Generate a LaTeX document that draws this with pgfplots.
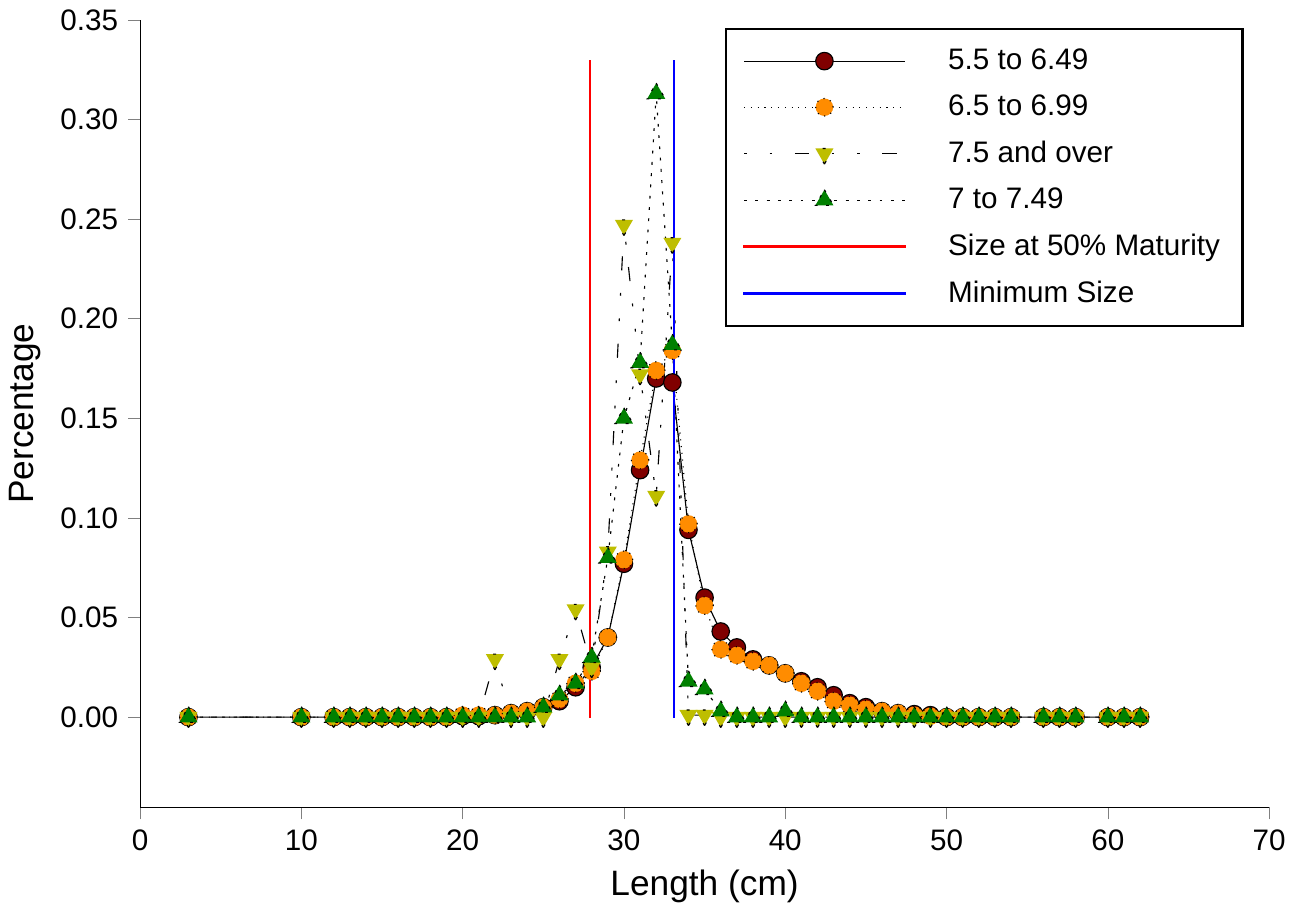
\documentclass[border=0pt]{standalone}
\usepackage{pgfplots}
\pgfplotsset{compat=1.18}
\usepackage{fontspec}
\setmainfont{Liberation Sans}
\definecolor{dred}{RGB}{128,0,0}
\definecolor{orng}{RGB}{255,140,0}
\definecolor{yel}{RGB}{190,190,0}
\definecolor{grn}{RGB}{0,128,0}
\definecolor{myblue}{RGB}{0,0,255}
\newcommand{\g}{\hspace*{13pt}}
\begin{document}
\begin{tikzpicture}
\begin{axis}[scale only axis, width=400pt, height=279pt,
 xmin=0, xmax=70, ymin=-0.0453, ymax=0.35,
 xtick={0,10,...,70}, ytick={0,0.05,...,0.35},
 yticklabel style={/pgf/number format/.cd,fixed,fixed zerofill,precision=2},
 /pgf/number format/assume math mode=true,
 tick align=outside, axis x line*=bottom, axis y line*=left,
 ticklabel style={font=\fontsize{10.5}{12}\selectfont},
 xlabel={Length (cm)}, ylabel={Percentage},
 label style={font=\fontsize{12.5}{14}\selectfont},
 legend style={at={(0.518,0.99)},anchor=north west, font=\fontsize{10.5}{12}\selectfont, draw=black, thick, row sep=3.5pt, inner xsep=6pt, inner ysep=5pt},
 legend cell align=left,
 legend image code/.code={\draw[mark repeat=2,mark phase=2,#1] plot coordinates {(0cm,0cm) (1.0cm,0cm) (2.0cm,0cm)};},
 every axis plot/.append style={mark size=3.1pt, mark options={solid,draw=black,thin}},
 clip=false]
\addplot[black, thin, mark=*, mark options={fill=dred}] coordinates {
(3,0)(10,0)(12,0)(13,0)(14,0)(15,0)(16,0)(17,0)(18,0)(19,0)(20,0.0005)(21,0.0005)(22,0.001)(23,0.002)(24,0.003)(25,0.005)(26,0.008)(27,0.015)(28,0.025)(29,0.040)(30,0.077)(31,0.124)(32,0.170)(33,0.168)(34,0.094)(35,0.060)(36,0.043)(37,0.035)(38,0.029)(39,0.026)(40,0.022)(41,0.018)(42,0.015)(43,0.011)(44,0.007)(45,0.005)(46,0.003)(47,0.002)(48,0.0015)(49,0.001)(50,0)(51,0)(52,0)(53,0)(54,0)(56,0)(57,0)(58,0)(60,0)(61,0)(62,0)};
\addlegendentry{\g 5.5 to 6.49}
\addplot[black, thin, dotted, mark=*, mark options={fill=orng}] coordinates {
(3,0)(10,0)(12,0)(13,0)(14,0)(15,0)(16,0)(17,0)(18,0)(19,0)(20,0.001)(21,0.001)(22,0.001)(23,0.002)(24,0.003)(25,0.005)(26,0.009)(27,0.017)(28,0.023)(29,0.040)(30,0.079)(31,0.129)(32,0.174)(33,0.184)(34,0.097)(35,0.056)(36,0.034)(37,0.031)(38,0.028)(39,0.026)(40,0.022)(41,0.017)(42,0.013)(43,0.008)(44,0.006)(45,0.004)(46,0.003)(47,0.002)(48,0.001)(49,0.0005)(50,0)(51,0)(52,0)(53,0)(54,0)(56,0)(57,0)(58,0)(60,0)(61,0)(62,0)};
\addlegendentry{\g 6.5 to 6.99}
\addplot[black, thin, dash pattern=on 1pt off 8pt on 1pt off 8pt on 5pt off 8pt, mark=triangle*, mark size=3.7pt, mark options={fill=yel, rotate=180}] coordinates {
(3,0)(10,0)(12,0)(13,0)(14,0)(15,0)(16,0)(17,0)(18,0)(19,0)(20,0)(21,0)(22,0.029)(23,0)(24,0)(25,0)(26,0.029)(27,0.054)(28,0.025)(29,0.083)(30,0.247)(31,0.172)(32,0.111)(33,0.238)(34,0.001)(35,0.001)(36,0)(37,0)(38,0)(39,0)(40,0)(41,0)(42,0)(43,0)(44,0)(45,0)(46,0)(47,0)(48,0)(49,0)(50,0)(51,0)(52,0)(53,0)(54,0)(56,0)(57,0)(58,0)(60,0)(61,0)(62,0)};
\addlegendentry{\g 7.5 and over}
\addplot[black, thin, dash pattern=on 1pt off 3pt, mark=triangle*, mark size=3.7pt, mark options={fill=grn}] coordinates {
(3,0)(10,0)(12,0)(13,0)(14,0)(15,0)(16,0)(17,0)(18,0)(19,0)(20,0)(21,0)(22,0)(23,0)(24,0)(25,0.005)(26,0.011)(27,0.017)(28,0.030)(29,0.080)(30,0.150)(31,0.178)(32,0.313)(33,0.187)(34,0.018)(35,0.014)(36,0.003)(37,0)(38,0)(39,0)(40,0.003)(41,0)(42,0)(43,0)(44,0)(45,0)(46,0)(47,0)(48,0)(49,0)(50,0)(51,0)(52,0)(53,0)(54,0)(56,0)(57,0)(58,0)(60,0)(61,0)(62,0)};
\addlegendentry{\g 7 to 7.49}
\addplot[draw=red, semithick, no marks, forget plot] coordinates {(27.9,-0.0005)(27.9,0.33)};
\addplot[draw=myblue, semithick, no marks, forget plot] coordinates {(33.1,-0.0005)(33.1,0.33)};
\addlegendimage{legend image code/.code={\fill[red] (0cm,-0.2pt) rectangle (2cm,0.2pt);}}
\addlegendentry{\g Size at 50\% Maturity}
\addlegendimage{legend image code/.code={\fill[myblue] (0cm,-0.2pt) rectangle (2cm,0.2pt);}}
\addlegendentry{\g Minimum Size}
\end{axis}
\end{tikzpicture}
\end{document}
